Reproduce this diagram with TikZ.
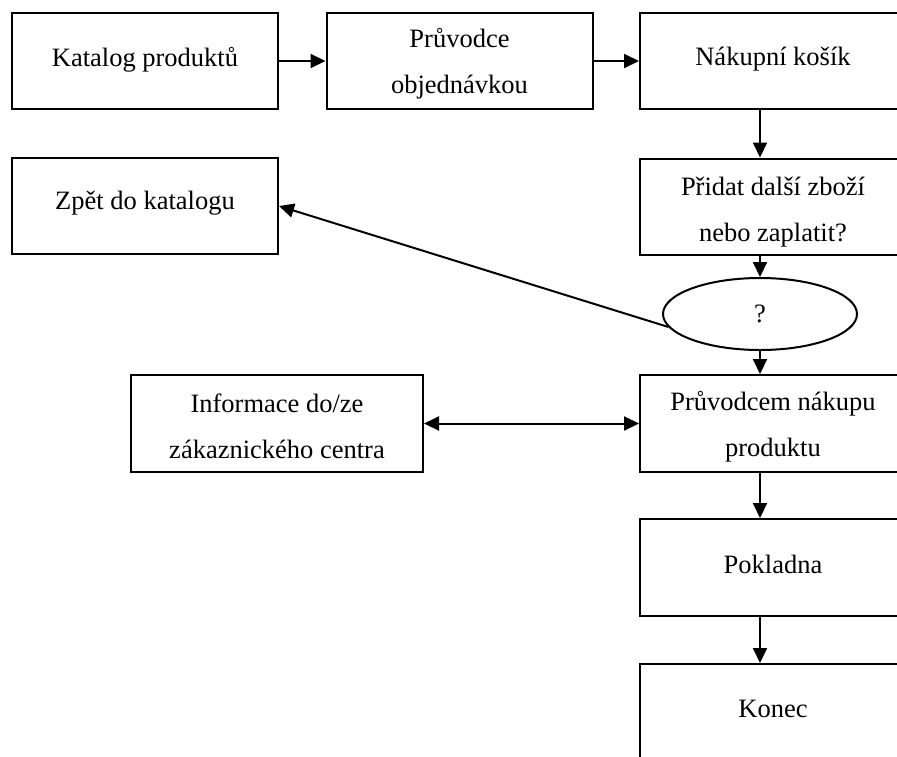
\documentclass[tikz,border=0pt]{standalone}
\usepackage{fontspec}
\setmainfont{Liberation Serif}
\usetikzlibrary{arrows.meta,shapes.geometric}
\begin{document}
\begin{tikzpicture}[x=1pt,y=-1pt,
  box/.style={draw,line width=2pt,rectangle,minimum width=266pt,minimum height=96pt,inner sep=0pt,align=center},
  txt/.style={inner sep=0pt,align=center},
  oval/.style={draw,line width=2pt,ellipse,minimum width=194pt,minimum height=72pt,inner sep=0pt},
  arr/.style={line width=2pt,-{Triangle[length=15pt,width=14pt]}},
  darr/.style={line width=2pt,{Triangle[length=15pt,width=14pt]}-{Triangle[length=15pt,width=14pt]}},
  font=\fontsize{26.5}{46}\selectfont]
\useasboundingbox (0,0) rectangle (897,756);
\clip (0,0) rectangle (897,756);
\node[box] (kat) at (145,61) {};
\node[txt] (katT) at (145,60) {Katalog produktů};
\node[box] (pruv) at (459.5,61) {};
\node[txt] (pruvT) at (459.5,64) {Průvodce\\objednávkou};
\node[box] (nak) at (773,61) {};
\node[txt] (nakT) at (773,59) {Nákupní košík};
\node[box] (zpet) at (145,206) {};
\node[txt] (zpetT) at (145,203) {Zpět do katalogu};
\node[box] (prid) at (773,206.5) {};
\node[txt] (pridT) at (773,212) {Přidat další zboží\\nebo zaplatit?};
\node[oval] (ell) at (760,314) {?};
\node[box,minimum width=292pt,minimum height=97pt] (info) at (277,423.5) {};
\node[txt] (infoT) at (277,426) {Informace do/ze\\zákaznického centra};
\node[box,minimum height=97pt] (pruvn) at (773,423.5) {};
\node[txt] (pruvnT) at (773,427) {Průvodcem nákupu\\produktu};
\node[box,minimum height=97pt] (pok) at (773,567.5) {};
\node[txt] (pokT) at (773,564) {Pokladna};
\node[box,minimum height=100pt] (kon) at (773,714) {};
\node[txt] (konT) at (773,709) {Konec};
\draw[arr] (kat.east) -- (pruv.west);
\draw[arr] (pruv.east) -- (nak.west);
\draw[arr] (nak.south -| ell.center) -- (prid.north -| ell.center);
\draw[arr] (prid.south -| ell.center) -- (ell.north);
\draw[arr] (ell.188) -- (zpet.east);
\draw[arr] (ell.south) -- (pruvn.north -| ell.center);
\draw[darr] (info.east) -- (pruvn.west);
\draw[arr] (pruvn.south -| ell.center) -- (pok.north -| ell.center);
\draw[arr] (pok.south -| ell.center) -- (kon.north -| ell.center);
\end{tikzpicture}
\end{document}
